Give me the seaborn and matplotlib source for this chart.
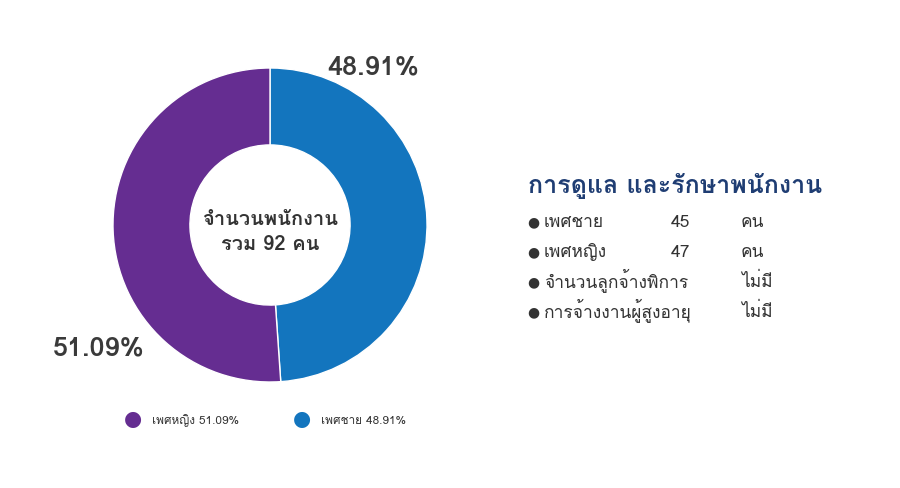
import matplotlib
matplotlib.use('Agg')
import matplotlib.pyplot as plt
import seaborn as sns
from matplotlib import font_manager
from matplotlib.ft2font import FT2Font

# chart data
genders = ['เพศชาย', 'เพศหญิง']
shares = [48.91, 51.09]
colors = ['#1375be', '#652d91']
center_lines = ['จำนวนพนักงาน', 'รวม 92 คน']
panel_title = 'การดูแล และรักษาพนักงาน'
panel_items = ['เพศชาย', 'เพศหญิง', 'จำนวนลูกจ้างพิการ', 'การจ้างงานผู้สูงอายุ']
panel_counts = ['45', '47', '', '']
panel_units = ['คน', 'คน', 'ไม่มี', 'ไม่มี']


def find_thai_font():
    for f in font_manager.fontManager.ttflist:
        try:
            cmap = FT2Font(f.fname).get_charmap()
        except Exception:
            continue
        if 0x0E01 in cmap and 0x0E32 in cmap:
            return f.name
    return None


sns.set_theme(style='white')
thai = find_thai_font()
fams = [thai, 'DejaVu Sans'] if thai else ['DejaVu Sans']
plt.rcParams['font.family'] = fams

fig = plt.figure(figsize=(9, 4.88), dpi=100)
fig.patch.set_facecolor('white')

W, H = 900, 488


def fy(y):
    return 1 - y / H


cx, cy, r = 270, 225, 157
ax = fig.add_axes([(cx - r) / W, (H - cy - r) / H, 2 * r / W, 2 * r / H])
ax.pie(shares, colors=colors, startangle=90, counterclock=False, radius=1,
       wedgeprops=dict(width=0.49, edgecolor='white', linewidth=1))
ax.set_aspect('equal')
ax.set_xlim(-1, 1)
ax.set_ylim(-1, 1)
ax.axis('off')

# centre text
for y, line in zip([225, 250], center_lines):
    fig.text(cx / W, fy(y), line, ha='center', va='baseline', fontsize=14.5,
             fontweight='bold', color='#333333')

# percentage labels
fig.text(373 / W, fy(67), f'{shares[0]:.2f}%', ha='center', va='center',
         fontsize=19.5, fontweight='bold', color='#3a3a3a')
fig.text(99 / W, fy(348), f'{shares[1]:.2f}%', ha='center', va='center',
         fontsize=19.5, fontweight='bold', color='#3a3a3a')

# legend at bottom
leg = [(133, 1, '#652d91'), (302, 0, '#1375be')]
for x, i, c in leg:
    fig.text(x / W, fy(419), '●', ha='center', va='center', fontsize=15,
             color=c, family='DejaVu Sans')
    fig.text((x + 19) / W, fy(424), f'{genders[i]} {shares[i]:.2f}%',
             ha='left', va='baseline', fontsize=8.5, color='#333333')

# right info panel
fig.text(528 / W, fy(193), panel_title, ha='left', va='baseline',
         fontsize=18, fontweight='bold', color='#1f3d73')
ys = [227, 257, 287, 317]
for y, item, cnt, unit in zip(ys, panel_items, panel_counts, panel_units):
    fig.text(527 / W, fy(y - 5), '●', ha='left', va='center', fontsize=10,
             color='#333333', family='DejaVu Sans')
    fig.text(544 / W, fy(y), item, ha='left', va='baseline', fontsize=12.5,
             color='#333333')
    if cnt:
        fig.text(671 / W, fy(y), cnt, ha='left', va='baseline', fontsize=12.5,
                 color='#333333')
    fig.text(741 / W, fy(y), unit, ha='left', va='baseline', fontsize=12.5,
             color='#333333')

fig.savefig('out.png', dpi=100, facecolor='white')
